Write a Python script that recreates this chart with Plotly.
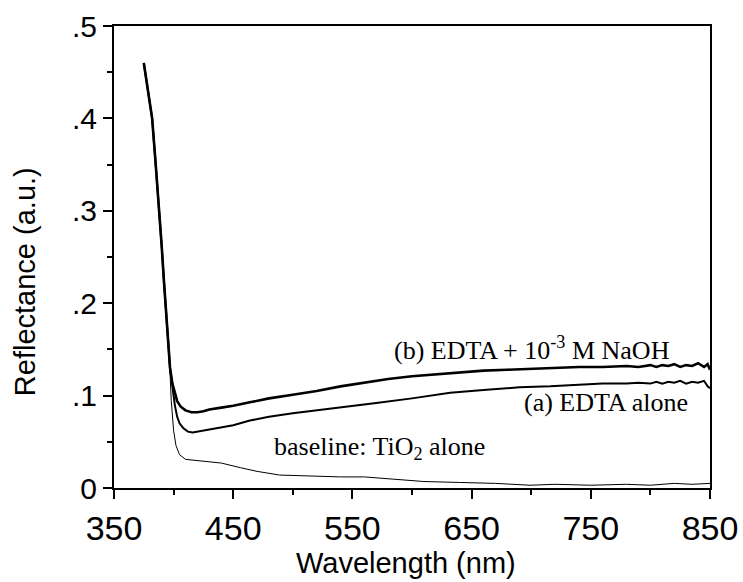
import plotly.graph_objects as go

# Diffuse reflectance spectra (wavelength in nm, reflectance in a.u.)
wl_b = [375, 378, 382, 385, 388, 390, 392, 394, 396, 397, 399, 401, 403, 406, 410,
        415, 420, 425, 430, 440, 450, 465, 480, 500, 520, 540, 560, 580, 600, 620,
        640, 660, 680, 700, 720, 740, 760, 780, 790, 800, 805, 810, 815, 820, 825,
        830, 835, 840, 845, 848, 850]
refl_b = [0.460, 0.435, 0.400, 0.350, 0.300, 0.262, 0.222, 0.184, 0.150, 0.130, 0.113,
          0.102, 0.094, 0.088, 0.084, 0.082, 0.082, 0.083, 0.085, 0.087, 0.089, 0.093,
          0.097, 0.101, 0.105, 0.110, 0.114, 0.118, 0.121, 0.123, 0.125, 0.127, 0.128,
          0.129, 0.130, 0.131, 0.131, 0.132, 0.131, 0.133, 0.131, 0.133, 0.132, 0.134,
          0.131, 0.133, 0.132, 0.135, 0.131, 0.134, 0.128]

wl_a = [375, 378, 382, 385, 388, 390, 392, 394, 396, 397, 399, 401, 403, 405, 408,
        412, 416, 420, 430, 440, 450, 464, 480, 500, 520, 548, 570, 600, 632, 660,
        690, 716, 740, 760, 780, 790, 800, 805, 810, 815, 820, 825, 830, 835, 840,
        845, 848, 850]
refl_a = [0.460, 0.435, 0.400, 0.350, 0.300, 0.262, 0.222, 0.184, 0.150, 0.130, 0.110,
          0.090, 0.077, 0.070, 0.065, 0.061, 0.060, 0.061, 0.063, 0.066, 0.068, 0.073,
          0.077, 0.081, 0.084, 0.088, 0.092, 0.097, 0.103, 0.106, 0.109, 0.110, 0.112,
          0.113, 0.113, 0.114, 0.113, 0.115, 0.113, 0.115, 0.114, 0.116, 0.113, 0.115,
          0.114, 0.116, 0.110, 0.108]

wl_base = [375, 378, 382, 385, 388, 390, 392, 394, 396, 397, 398, 400, 402, 405, 410,
           418, 430, 440, 456, 470, 489, 510, 540, 560, 587, 610, 640, 670, 699, 720,
           750, 780, 800, 820, 835, 850]
refl_base = [0.460, 0.435, 0.400, 0.350, 0.300, 0.262, 0.222, 0.184, 0.150, 0.125, 0.095,
             0.062, 0.046, 0.036, 0.031, 0.030, 0.028, 0.027, 0.022, 0.018, 0.014, 0.013,
             0.012, 0.012, 0.009, 0.007, 0.006, 0.005, 0.003, 0.004, 0.003, 0.004,
             0.003, 0.005, 0.004, 0.005]

x_ticks = [350, 450, 550, 650, 750, 850]
y_ticks = [0, 0.1, 0.2, 0.3, 0.4, 0.5]
y_tick_text = ["0", ".1", ".2", ".3", ".4", ".5"]

sans = "Liberation Sans, Arial, sans-serif"
serif = "Liberation Serif, Times New Roman, serif"

fig = go.Figure()
fig.add_trace(go.Scatter(x=wl_base, y=refl_base, mode="lines",
                         line=dict(color="black", width=1)))
fig.add_trace(go.Scatter(x=wl_a, y=refl_a, mode="lines",
                         line=dict(color="black", width=2)))
fig.add_trace(go.Scatter(x=wl_b, y=refl_b, mode="lines",
                         line=dict(color="black", width=2.6)))

# curve labels
label_font = dict(family=serif, size=26, color="black")
fig.add_annotation(x=701, y=0.151, text="(b) EDTA + 10<sup>-3</sup> M NaOH",
                   showarrow=False, xanchor="center", yanchor="middle", font=label_font)
fig.add_annotation(x=763, y=0.092, text="(a) EDTA alone",
                   showarrow=False, xanchor="center", yanchor="middle", font=label_font)
fig.add_annotation(x=573, y=0.043, text="baseline: TiO<sub>2</sub> alone",
                   showarrow=False, xanchor="center", yanchor="middle", font=label_font)

# axis titles placed in paper coordinates
title_font = dict(family=sans, size=29, color="black")
fig.add_annotation(xref="paper", yref="paper", x=-0.149, y=0.446,
                   xanchor="center", yanchor="middle",
                   text="Reflectance (a.u.)", textangle=-90, showarrow=False,
                   font=title_font)
fig.add_annotation(xref="paper", yref="paper", x=0.49, y=-0.162,
                   xanchor="center", yanchor="middle",
                   text="Wavelength (nm)", showarrow=False, font=title_font)

fig.update_xaxes(range=[350, 850], tickvals=x_ticks, showgrid=False, zeroline=False,
                 showline=True, linecolor="black", linewidth=2, mirror=True,
                 ticks="outside", ticklen=9, tickwidth=1.5, tickcolor="black",
                 minor=dict(ticks="outside", ticklen=5, dtick=50, tickwidth=1.5,
                            tickcolor="black", showgrid=False),
                 tickfont=dict(family=sans, size=34, color="black"),
                 automargin=False)
fig.update_yaxes(range=[0, 0.5], tickvals=y_ticks, ticktext=y_tick_text,
                 showgrid=False, zeroline=False,
                 showline=True, linecolor="black", linewidth=2, mirror=True,
                 ticks="outside", ticklen=9, tickwidth=1.5, tickcolor="black",
                 minor=dict(ticks="outside", ticklen=5, dtick=0.05, tickwidth=1.5,
                            tickcolor="black", showgrid=False),
                 tickfont=dict(family=sans, size=30, color="black"),
                 automargin=False)

fig.update_layout(width=743, height=582, showlegend=False,
                  margin=dict(l=114, r=33, t=26, b=94),
                  plot_bgcolor="white", paper_bgcolor="white")

fig.write_html("out.html")
